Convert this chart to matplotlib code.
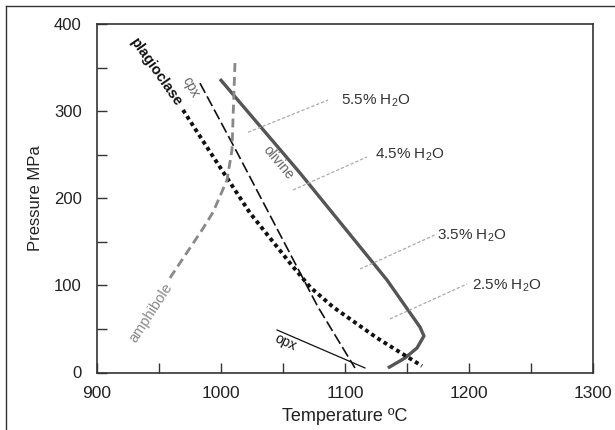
import matplotlib
matplotlib.use("Agg")
import matplotlib.pyplot as plt
from matplotlib.lines import Line2D

plt.rcParams['font.family'] = ['Liberation Sans', 'DejaVu Sans']

# ---- data (Temperature degC, Pressure MPa) ----
olivine_T = [999.1, 1063.6, 1133.7, 1160.3, 1163.5, 1157.9, 1148.2, 1134.5]
olivine_P = [336.8, 229.0, 106.2, 52.2, 41.9, 28.1, 16.6, 5.2]

plag_T = [969.3, 992.7, 1023.3, 1055.5, 1071.7, 1090.2, 1125.7, 1161.9]
plag_P = [301.3, 249.7, 183.1, 125.7, 98.1, 75.2, 39.6, 7.5]

cpx_T = [983.0, 1012.8, 1078.1, 1107.9]
cpx_P = [332.1, 252.9, 75.2, 5.2]

amph_T = [1011.2, 1009.6, 1008.8, 1004.8, 993.5, 984.6, 958.8]
amph_P = [355.2, 289.8, 255.4, 221.0, 183.9, 163.5, 108.5]

opx_T = [1045.1, 1116.0]
opx_P = [48.8, 5.2]

water_labels = ["5.5%", "4.5%", "3.5%", "2.5%"]
water_T = [[1021.7, 1086.2], [1058.0, 1117.6], [1112.0, 1174.0], [1136.1, 1198.2]]
water_P = [[275.7, 312.7], [209.5, 247.4], [118.8, 159.0], [61.4, 101.6]]
water_label_T = [1096.6, 1124.0, 1173.8, 1202.0]
water_label_P = [307.8, 245.8, 152.9, 95.5]

x_ticks = [900, 1000, 1100, 1200, 1300]
y_ticks = [0, 100, 200, 300, 400]

fig = plt.figure(figsize=(6.15, 4.30), dpi=100)
ax = fig.add_axes([97/615, 1-372.5/430, (593.3-97)/615, (372.5-24)/430])

spine_c = '#333333'

# curves
ax.plot(olivine_T, olivine_P, color='#555555', lw=2.4, solid_capstyle='butt', solid_joinstyle='round')
ax.plot(plag_T, plag_P, color='#111111', lw=2.8, linestyle=(0, (1, 0.9)), dash_capstyle='butt')
ax.plot(cpx_T, cpx_P, color='#111111', lw=1.2, linestyle=(0, (6.6, 2.4)))
ax.plot(amph_T, amph_P, color='#888888', lw=2.0, linestyle=(0, (3.2, 1.8)))
ax.plot(opx_T, opx_P, color='#111111', lw=0.9)

for lab, wt, wp, lt, lp in zip(water_labels, water_T, water_P, water_label_T, water_label_P):
    ax.plot(wt, wp, color='#aaaaaa', lw=0.9, linestyle=(0, (2.6, 1.6)))
    ax.text(lt, lp, lab + r" H$_\mathregular{2}$O", fontsize=11, color='#333333',
            ha='left', va='baseline')

# curve labels
ax.text(947.5, 344.9, "plagioclase", fontsize=10.5, fontweight='bold', color='#111111',
        rotation=-55, ha='center', va='center', rotation_mode='anchor')
ax.text(975.8, 327.6, "cpx", fontsize=10, color='#666666',
        rotation=-62, ha='center', va='center', rotation_mode='anchor')
ax.text(1045.9, 240.7, "olivine", fontsize=10, color='#666666',
        rotation=-50, ha='center', va='center', rotation_mode='anchor')
ax.text(943.5, 68.3, "amphibole", fontsize=10.5, color='#888888',
        rotation=57, ha='center', va='center', rotation_mode='anchor')
ax.text(1052.3, 35.0, "opx", fontsize=10, color='#111111',
        rotation=-25, ha='center', va='center', rotation_mode='anchor')

# axes styling
ax.set_xlim(900, 1300)
ax.set_ylim(0, 400)
ax.set_xticks(x_ticks)
ax.set_yticks(y_ticks)
ax.set_xticks([950, 1050, 1150, 1250], minor=True)
ax.set_yticks([50, 150, 250, 350], minor=True)
ax.tick_params(which='both', direction='in', length=7.5, width=1.0, color=spine_c,
               labelsize=12, labelcolor='#222222')
ax.tick_params(axis='x', which='major', labelsize=12.5, pad=10)
ax.tick_params(axis='y', which='major', pad=11)
for s in ax.spines.values():
    s.set_color(spine_c)
    s.set_linewidth(1.2)

ax.set_xlabel("Temperature ºC", fontsize=13, color='#222222', labelpad=5)
ax.set_ylabel("Pressure MPa", fontsize=12, color='#222222', labelpad=8)

# outer frame (top and left edges)
fig.add_artist(Line2D([6/615, 1.0], [1-6/430, 1-6/430], color='#333333', lw=1.0,
                      transform=fig.transFigure))
fig.add_artist(Line2D([6/615, 6/615], [0.0, 1-6/430], color='#333333', lw=1.0,
                      transform=fig.transFigure))

fig.savefig("out.png", dpi=100)
